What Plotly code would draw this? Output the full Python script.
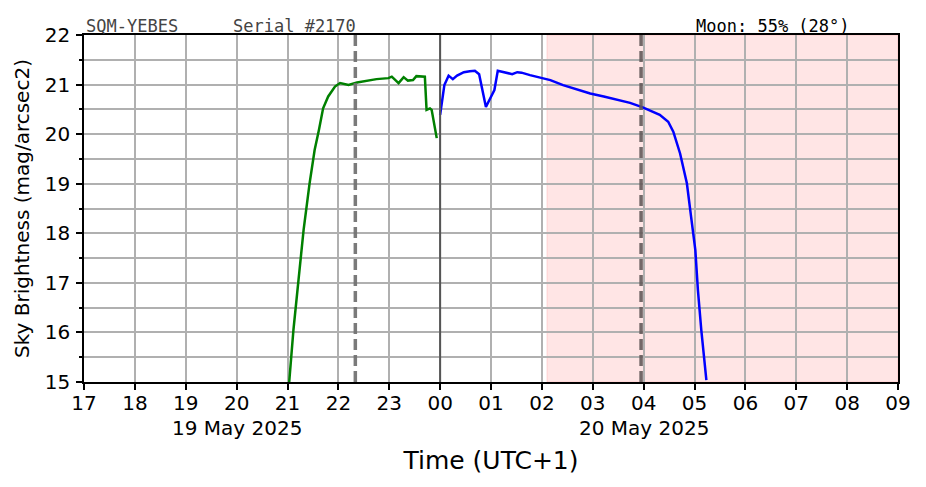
import plotly.graph_objects as go

# night 1 (before midnight) - green
green_time = ["2025-05-19 21:02", "2025-05-19 21:07", "2025-05-19 21:13", "2025-05-19 21:19",
              "2025-05-19 21:26", "2025-05-19 21:32", "2025-05-19 21:37", "2025-05-19 21:42",
              "2025-05-19 21:48", "2025-05-19 21:56", "2025-05-19 22:02", "2025-05-19 22:12",
              "2025-05-19 22:22", "2025-05-19 22:34", "2025-05-19 22:45", "2025-05-19 22:59",
              "2025-05-19 23:03", "2025-05-19 23:11", "2025-05-19 23:17", "2025-05-19 23:22",
              "2025-05-19 23:28", "2025-05-19 23:32", "2025-05-19 23:40", "2025-05-19 23:42",
              "2025-05-19 23:44", "2025-05-19 23:48", "2025-05-19 23:50", "2025-05-19 23:56"]
green_mag = [15.0, 16.05, 17.06, 18.07, 19.0, 19.68, 20.08, 20.52,
             20.76, 20.96, 21.03, 20.99, 21.04, 21.08, 21.11, 21.13,
             21.16, 21.03, 21.15, 21.08, 21.09, 21.17, 21.17, 21.16,
             20.49, 20.52, 20.49, 19.92]

# after midnight - blue
blue_time = ["2025-05-20 00:00", "2025-05-20 00:05", "2025-05-20 00:10", "2025-05-20 00:15",
             "2025-05-20 00:20", "2025-05-20 00:28", "2025-05-20 00:35", "2025-05-20 00:41",
             "2025-05-20 00:46", "2025-05-20 00:49", "2025-05-20 00:54", "2025-05-20 00:59",
             "2025-05-20 01:04", "2025-05-20 01:08", "2025-05-20 01:14", "2025-05-20 01:25",
             "2025-05-20 01:31", "2025-05-20 01:36", "2025-05-20 01:46", "2025-05-20 02:02",
             "2025-05-20 02:10", "2025-05-20 02:25", "2025-05-20 02:41", "2025-05-20 02:57",
             "2025-05-20 03:13", "2025-05-20 03:28", "2025-05-20 03:44", "2025-05-20 03:59",
             "2025-05-20 04:19", "2025-05-20 04:29", "2025-05-20 04:35", "2025-05-20 04:43",
             "2025-05-20 04:51", "2025-05-20 04:56", "2025-05-20 05:01", "2025-05-20 05:04",
             "2025-05-20 05:08", "2025-05-20 05:14"]
blue_mag = [20.39, 20.99, 21.18, 21.11, 21.18, 21.25, 21.27, 21.28,
            21.21, 20.96, 20.55, 20.72, 20.89, 21.28, 21.26, 21.21,
            21.25, 21.24, 21.19, 21.13, 21.09, 20.99, 20.90, 20.82,
            20.76, 20.70, 20.63, 20.54, 20.39, 20.25, 20.05, 19.61,
            19.01, 18.33, 17.66, 16.86, 16.05, 15.04]

tick_vals = ["2025-05-19 %02d:00" % h for h in range(17, 24)] + \
            ["2025-05-20 %02d:00" % h for h in range(0, 10)]
tick_text = ["17", "18", "19", "20", "21", "22", "23",
             "00", "01", "02", "03", "04", "05", "06", "07", "08", "09"]

day_labels = ["19 May 2025", "20 May 2025"]
day_label_pos = ["2025-05-19 20:00", "2025-05-20 04:00"]

dusk_line = "2025-05-19 22:20"
dawn_line = "2025-05-20 03:57"
midnight = "2025-05-20 00:00"
moon_start = "2025-05-20 02:06"

fig = go.Figure()

fig.add_trace(go.Scatter(x=green_time, y=green_mag, mode="lines",
                         line=dict(color="green", width=2.5), showlegend=False))
fig.add_trace(go.Scatter(x=blue_time, y=blue_mag, mode="lines",
                         line=dict(color="blue", width=2.5), showlegend=False))

# moon-up shading
fig.add_shape(type="rect", xref="x", yref="paper", x0=moon_start, x1="2025-05-20 09:00",
              y0=0, y1=1, fillcolor="rgba(255,0,0,0.1)",
              line=dict(color="rgba(255,0,0,0.12)", width=1), layer="below")

fig.add_shape(type="line", xref="x", yref="paper", x0=dusk_line, x1=dusk_line, y0=0, y1=1,
              line=dict(color="rgba(115,115,115,0.95)", width=3.5, dash="11px,5px"))
fig.add_shape(type="line", xref="x", yref="paper", x0=dawn_line, x1=dawn_line, y0=0, y1=1,
              line=dict(color="rgba(100,90,90,0.9)", width=3.5, dash="11px,5px"))
fig.add_shape(type="line", xref="x", yref="paper", x0=midnight, x1=midnight, y0=0, y1=1,
              line=dict(color="#555555", width=2))

for lbl, pos in zip(day_labels, day_label_pos):
    fig.add_annotation(x=pos, y=-0.1326, xref="x", yref="paper", text=lbl, showarrow=False,
                       yanchor="middle", font=dict(size=20, color="black"))

fig.add_annotation(x=0, y=1, xref="paper", yref="paper", text="SQM-YEBES", showarrow=False,
                   xanchor="left", yanchor="bottom", yshift=-3,
                   font=dict(family="DejaVu Sans Mono", size=17, color="#444444"))
fig.add_annotation(x=0.1806, y=1, xref="paper", yref="paper", text="Serial #2170", showarrow=False,
                   xanchor="left", yanchor="bottom", yshift=-3,
                   font=dict(family="DejaVu Sans Mono", size=17, color="#444444"))
fig.add_annotation(x=0.846, y=1, xref="paper", yref="paper", text="Moon: 55% (28°)",
                   showarrow=False, xanchor="center", yanchor="bottom", yshift=-3,
                   font=dict(family="DejaVu Sans Mono", size=17, color="black"))

fig.update_xaxes(type="date", range=["2025-05-19 17:00", "2025-05-20 09:00"],
                 tickmode="array", tickvals=tick_vals, ticktext=tick_text,
                 showgrid=True, gridcolor="#b0b0b0", gridwidth=1.5,
                 ticks="outside", ticklen=6, tickwidth=1.5, tickcolor="black",
                 showline=True, linecolor="black", linewidth=1.5, mirror=True,
                 tickfont=dict(size=20, color="black"), ticklabelstandoff=-4,
                 title=dict(text="Time (UTC+1)", font=dict(size=25, color="black"), standoff=38))
fig.update_yaxes(range=[15, 22], dtick=1, showgrid=True, gridcolor="#b0b0b0", gridwidth=1.5,
                 ticks="outside", ticklen=6, tickwidth=1.5, tickcolor="black",
                 minor=dict(dtick=0.5, showgrid=True, gridcolor="#b0b0b0", gridwidth=1.5,
                            ticks="outside", ticklen=3.5, tickcolor="black"),
                 showline=True, linecolor="black", linewidth=1.5, mirror=True, zeroline=False,
                 tickfont=dict(size=20, color="black"), ticklabelstandoff=2,
                 title=dict(text="Sky Brightness (mag/arcsec2)", font=dict(size=20, color="black"),
                            standoff=10))

# page body has an 8px default margin, so shift the plot area to match
fig.update_layout(width=926, height=487, margin=dict(l=76, r=36, t=27, b=113),
                  plot_bgcolor="white", paper_bgcolor="white",
                  font=dict(family="DejaVu Sans", color="black"))

fig.write_html("out.html")
